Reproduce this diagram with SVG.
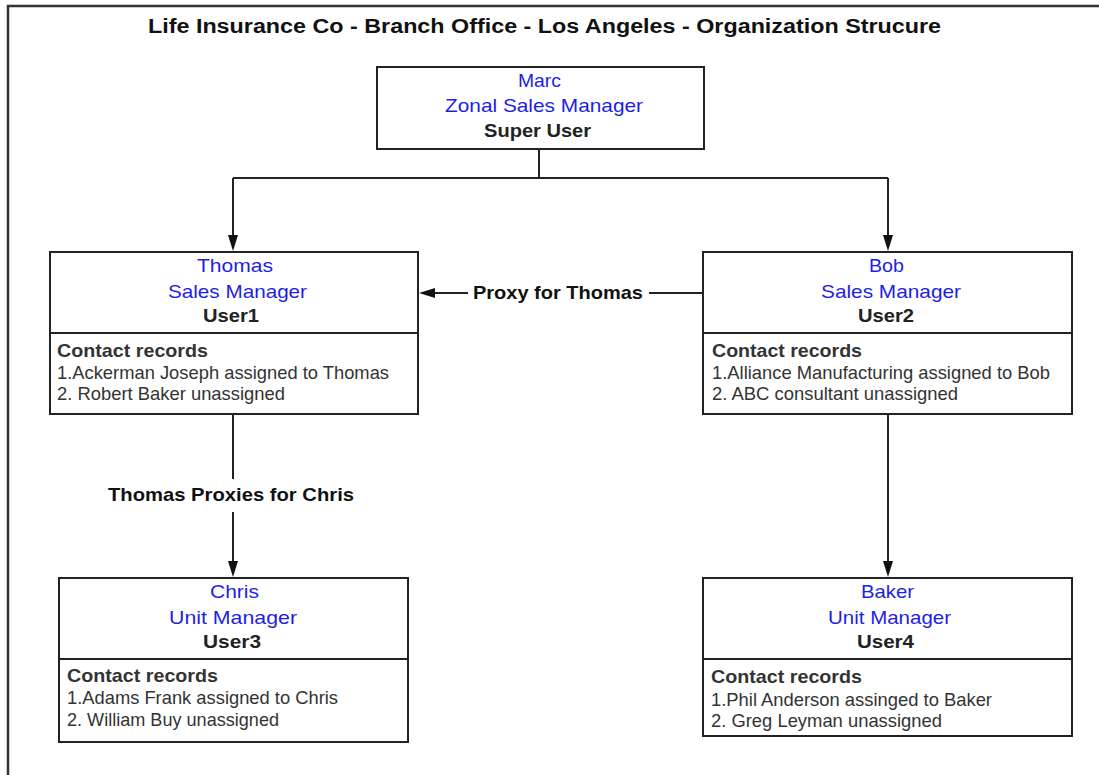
<svg xmlns="http://www.w3.org/2000/svg" width="1099" height="775" viewBox="0 0 1099 775">
<style>
.box{fill:#fff;stroke:#222;stroke-width:2}
.div{stroke:#222;stroke-width:2}
.ln{fill:none;stroke:#222;stroke-width:2}
text{font-family:"Liberation Sans",Arial,sans-serif;font-size:19px}
.nm{fill:#1e1ee6}
.usr{fill:#222;font-weight:bold}
.hd{fill:#333;font-weight:bold}
.rec{fill:#333}
.lbl{fill:#111;font-weight:bold}
.ttl{fill:#111;font-weight:bold;font-size:20px}
</style>
<rect width="1099" height="775" fill="#fff"/>
<g id="frame">
<path d="M8,775 V6 H1099" fill="none" stroke="#333" stroke-width="2.5"/>
</g>
<g id="title">
<text class="ttl" x="148" y="33" textLength="793" lengthAdjust="spacingAndGlyphs">Life Insurance Co - Branch Office - Los Angeles - Organization Strucure</text>
</g>
<g id="connectors">
<path class="ln" d="M539,149 V178"/>
<path class="ln" d="M233,178 H888"/>
<path d="M233,178 V236" class="ln"/>
<path d="M228,235 L238,235 L233,251 z" fill="#111"/>
<path d="M888,178 V236" class="ln"/>
<path d="M883,235 L893,235 L888,251 z" fill="#111"/>
<path class="ln" d="M703,293 H649"/>
<path class="ln" d="M468,293 H434"/>
<path d="M435,288 L435,298 L419,293 z" fill="#111"/>
<path class="ln" d="M233,414 V479"/>
<path class="ln" d="M233,512 V562"/>
<path d="M228,561 L238,561 L233,577 z" fill="#111"/>
<path class="ln" d="M888,414 V562"/>
<path d="M883,561 L893,561 L888,577 z" fill="#111"/>
<text class="lbl" x="473" y="299" textLength="170" lengthAdjust="spacingAndGlyphs">Proxy for Thomas</text>
<text class="lbl" x="108" y="501" textLength="246" lengthAdjust="spacingAndGlyphs">Thomas Proxies for Chris</text>
</g>
<g id="marc">
<rect class="box" x="377" y="67" width="327" height="82"/>
<text class="nm" x="518" y="87" textLength="43" lengthAdjust="spacingAndGlyphs">Marc</text>
<text class="nm" x="445" y="112" textLength="198" lengthAdjust="spacingAndGlyphs">Zonal Sales Manager</text>
<text class="usr" x="484" y="137" textLength="107" lengthAdjust="spacingAndGlyphs">Super User</text>
</g>
<g id="thomas">
<rect class="box" x="50" y="252" width="368" height="162"/>
<line class="div" x1="50" y1="333" x2="418" y2="333"/>
<text class="nm" x="197" y="272" textLength="76" lengthAdjust="spacingAndGlyphs">Thomas</text>
<text class="nm" x="168" y="298" textLength="139" lengthAdjust="spacingAndGlyphs">Sales Manager</text>
<text class="usr" x="203" y="322" textLength="56" lengthAdjust="spacingAndGlyphs">User1</text>
<text class="hd" x="57" y="357" textLength="151" lengthAdjust="spacingAndGlyphs">Contact records</text>
<text class="rec" x="57" y="379" textLength="332" lengthAdjust="spacingAndGlyphs">1.Ackerman Joseph assigned to Thomas</text>
<text class="rec" x="57" y="400" textLength="228" lengthAdjust="spacingAndGlyphs">2. Robert Baker unassigned</text>
</g>
<g id="bob">
<rect class="box" x="703" y="252" width="369" height="162"/>
<line class="div" x1="703" y1="333" x2="1072" y2="333"/>
<text class="nm" x="869" y="272" textLength="35" lengthAdjust="spacingAndGlyphs">Bob</text>
<text class="nm" x="821" y="298" textLength="140" lengthAdjust="spacingAndGlyphs">Sales Manager</text>
<text class="usr" x="858" y="322" textLength="56" lengthAdjust="spacingAndGlyphs">User2</text>
<text class="hd" x="712" y="357" textLength="150" lengthAdjust="spacingAndGlyphs">Contact records</text>
<text class="rec" x="712" y="379" textLength="338" lengthAdjust="spacingAndGlyphs">1.Alliance Manufacturing assigned to Bob</text>
<text class="rec" x="712" y="400" textLength="246" lengthAdjust="spacingAndGlyphs">2. ABC consultant unassigned</text>
</g>
<g id="chris">
<rect class="box" x="59" y="578" width="349" height="164"/>
<line class="div" x1="59" y1="659" x2="408" y2="659"/>
<text class="nm" x="210" y="598" textLength="49" lengthAdjust="spacingAndGlyphs">Chris</text>
<text class="nm" x="169" y="624" textLength="128" lengthAdjust="spacingAndGlyphs">Unit  Manager</text>
<text class="usr" x="203" y="648" textLength="58" lengthAdjust="spacingAndGlyphs">User3</text>
<text class="hd" x="67" y="682" textLength="151" lengthAdjust="spacingAndGlyphs">Contact records</text>
<text class="rec" x="67" y="704" textLength="271" lengthAdjust="spacingAndGlyphs">1.Adams Frank assigned to Chris</text>
<text class="rec" x="67" y="726" textLength="212" lengthAdjust="spacingAndGlyphs">2. William Buy unassigned</text>
</g>
<g id="baker">
<rect class="box" x="703" y="578" width="369" height="158"/>
<line class="div" x1="703" y1="659" x2="1072" y2="659"/>
<text class="nm" x="861" y="598" textLength="53" lengthAdjust="spacingAndGlyphs">Baker</text>
<text class="nm" x="828" y="624" textLength="123" lengthAdjust="spacingAndGlyphs">Unit Manager</text>
<text class="usr" x="857" y="648" textLength="57" lengthAdjust="spacingAndGlyphs">User4</text>
<text class="hd" x="711" y="683" textLength="151" lengthAdjust="spacingAndGlyphs">Contact records</text>
<text class="rec" x="711" y="706" textLength="281" lengthAdjust="spacingAndGlyphs">1.Phil Anderson assinged to Baker</text>
<text class="rec" x="711" y="727" textLength="231" lengthAdjust="spacingAndGlyphs">2. Greg Leyman unassigned</text>
</g>
</svg>
